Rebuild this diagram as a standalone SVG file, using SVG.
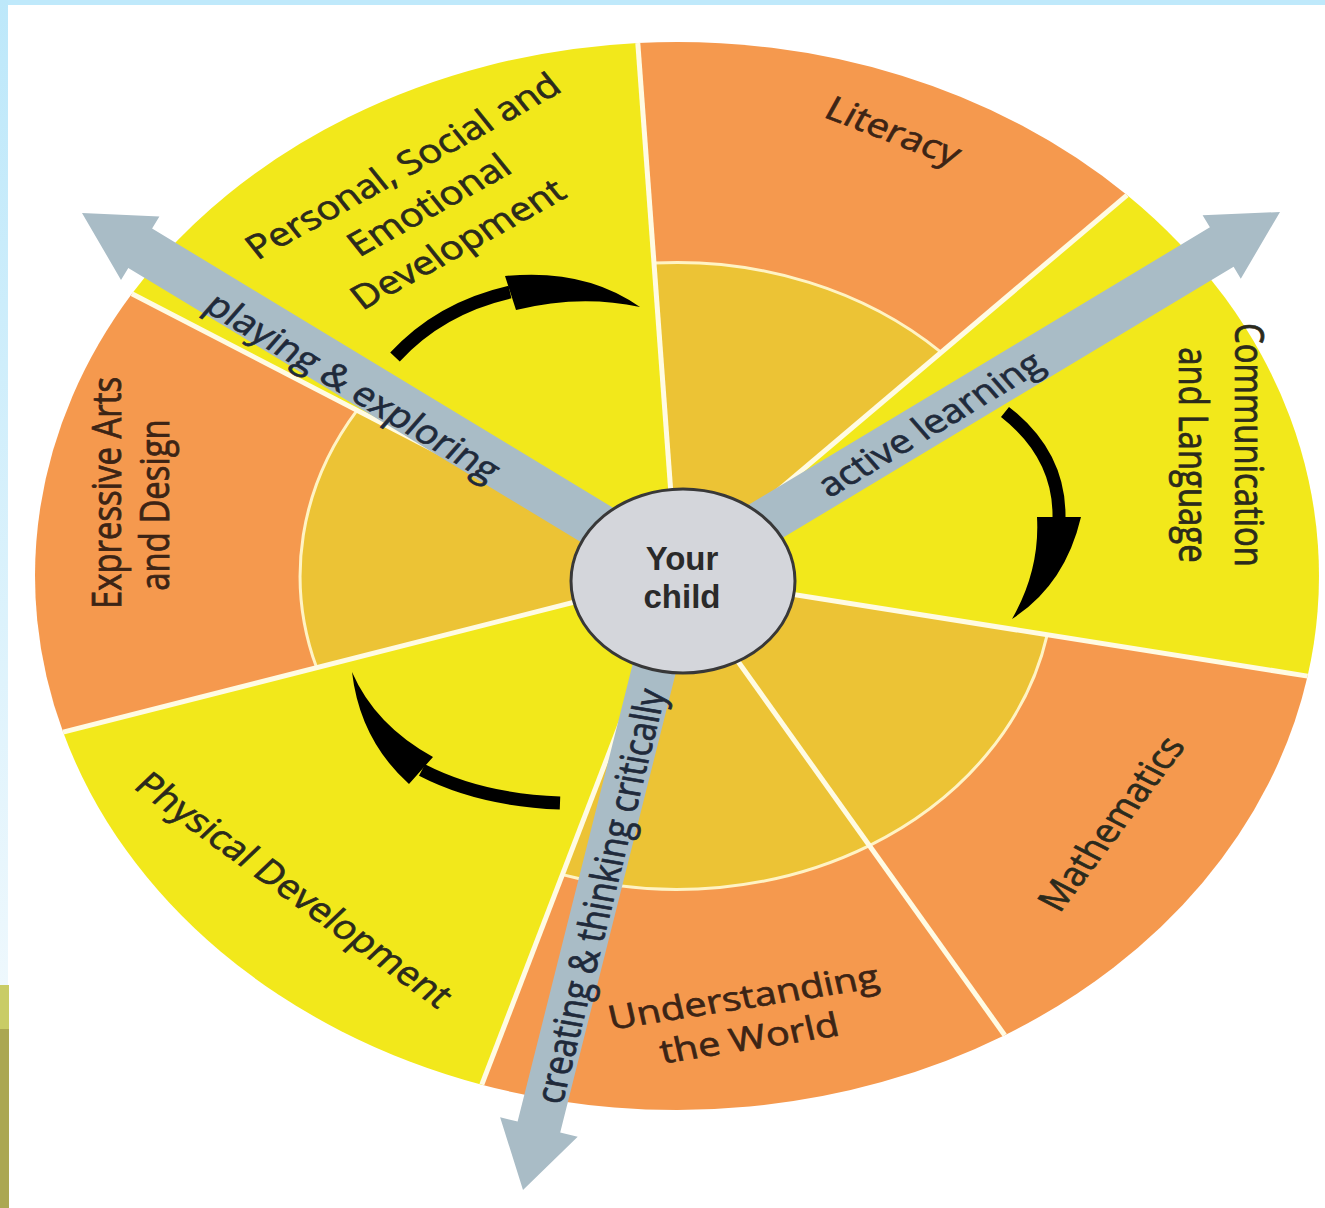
<svg xmlns="http://www.w3.org/2000/svg" width="1325" height="1208" viewBox="0 0 1325 1208">
<defs>
<linearGradient id="leftBand" x1="0" y1="0" x2="0" y2="1">
<stop offset="0" stop-color="#bde8fa"/>
<stop offset="1" stop-color="#eef8fd"/>
</linearGradient>
</defs>
<style>
.yellow{fill:#f2e81b}
.orange{fill:#f5994e}
.gold{fill:#ecc335;stroke:#fff3c4;stroke-width:3}
.sep{stroke:#fffbe3;stroke-width:5;fill:none}
.lbl{font-family:"Open Sans","Liberation Sans",Arial,sans-serif;font-size:35px;text-anchor:middle;dominant-baseline:central;stroke-width:0.7px}
.dark{fill:#2b2a1c;stroke:#2b2a1c}
.brown{fill:#3c2415;stroke:#3c2415}
.garrow{fill:#a9bcc6}
.alabel{font-family:"Open Sans","Liberation Sans",Arial,sans-serif;font-size:35px;text-anchor:middle;dominant-baseline:central;fill:#1f2a3b;stroke:#1f2a3b;stroke-width:0.7px}
.blk{fill:#000}
.shaft{fill:none;stroke:#000;stroke-width:13;stroke-linecap:butt}
</style>
<rect x="0" y="0" width="1325" height="1208" fill="#ffffff"/>
<rect x="0" y="0" width="1325" height="5" fill="#bfe9fb"/>
<rect x="0" y="0" width="8" height="985" fill="url(#leftBand)"/>
<rect x="0" y="985" width="9" height="44" fill="#c9cc66"/>
<rect x="0" y="1029" width="9" height="179" fill="#aba752"/>

<g id="literacy">
<path class="orange" d="M677,576 L637.8,43 A642,534 0 0 1 1127,195.1 Z"/>
<path class="gold" d="M677,576 L654,263.1 A377,313.5 0 0 1 941.2,352.4 Z"/>
<text class="lbl brown" transform="translate(894,130) scale(1.13,0.94) rotate(24.8)">Literacy</text>
</g>
<g id="mathematics">
<path class="orange" d="M677,576 L1307.6,676.1 A642,534 0 0 1 1004.7,1035.2 Z"/>
<path class="gold" d="M677,576 L1047.2,634.8 A377,313.5 0 0 1 869.4,845.6 Z"/>
<text class="lbl dark" transform="translate(1110,823) scale(1.13,0.94) rotate(-57.9)">Mathematics</text>
</g>
<g id="understanding">
<path class="orange" d="M677,576 L1004.7,1035.2 A642,534 0 0 1 481.8,1084.7 Z"/>
<path class="gold" d="M677,576 L869.4,845.6 A377,313.5 0 0 1 562.4,874.6 Z"/>
<text class="lbl brown" transform="translate(743,996) scale(1.13,0.94) rotate(-10.8)">Understanding</text>
<text class="lbl brown" transform="translate(749,1037) scale(1.13,0.94) rotate(-10.8)">the World</text>
</g>
<g id="expressive">
<path class="orange" d="M677,576 L63.1,732.1 A642,534 0 0 1 131.9,293.8 Z"/>
<path class="gold" d="M677,576 L316.6,667.6 A377,313.5 0 0 1 357,410.3 Z"/>
<text class="lbl brown" transform="translate(106,493) scale(1.13,0.94) rotate(-90)">Expressive Arts</text>
<text class="lbl brown" transform="translate(154,505) scale(1.13,0.94) rotate(-90)">and Design</text>
</g>
<g id="personal">
<path class="yellow" d="M677,576 L131.9,293.8 A642,534 0 0 1 637.8,43 Z"/>
<text class="lbl dark" transform="translate(402,165) scale(1.13,0.94) rotate(-33.7)">Personal, Social and</text>
<text class="lbl dark" transform="translate(428,204) scale(1.13,0.94) rotate(-33.7)">Emotional</text>
<text class="lbl dark" transform="translate(457,243) scale(1.13,0.94) rotate(-33.7)">Development</text>
</g>
<g id="communication">
<path class="yellow" d="M677,576 L1127,195.1 A642,534 0 0 1 1307.6,676.1 Z"/>
<text class="lbl dark" transform="translate(1250,445) scale(1.13,0.94) rotate(90)">Communication</text>
<text class="lbl dark" transform="translate(1194,455) scale(1.13,0.94) rotate(90)">and Language</text>
</g>
<g id="physical">
<path class="yellow" d="M677,576 L481.8,1084.7 A642,534 0 0 1 63.1,732.1 Z"/>
<text class="lbl dark" transform="translate(295,889) scale(1.13,0.94) rotate(41.1)">Physical Development</text>
</g>

<g id="connectors">
<g id="separators">
<line class="sep" x1="677" y1="576" x2="637.8" y2="43"/>
<line class="sep" x1="677" y1="576" x2="1127" y2="195.1"/>
<line class="sep" x1="677" y1="576" x2="1307.6" y2="676.1"/>
<line class="sep" x1="677" y1="576" x2="1004.7" y2="1035.2"/>
<line class="sep" x1="677" y1="576" x2="481.8" y2="1084.7"/>
<line class="sep" x1="677" y1="576" x2="63.1" y2="732.1"/>
<line class="sep" x1="677" y1="576" x2="131.9" y2="293.8"/>
</g>
<g id="arrow-playing">
<polygon class="garrow" points="689.9,554.3 152.1,228.5 159.4,216.6 82,213 121,279.9 128.3,267.9 666.1,593.7"/>
<text class="alabel" transform="translate(354,386) scale(1.13,0.94) rotate(36.1)">playing &amp; exploring</text>
</g>
<g id="arrow-active">
<polygon class="garrow" points="689.9,593.7 1233.6,266.7 1240.8,278.7 1280,212 1202.6,215.3 1209.9,227.3 666.2,554.3"/>
<text class="alabel" transform="translate(929,423) scale(1.13,0.94) rotate(-35.8)">active learning</text>
</g>
<g id="arrow-creating">
<polygon class="garrow" points="656.7,568.6 517.6,1121.6 500.1,1117.2 523,1190 577.7,1136.8 560.2,1132.4 699.3,579.4"/>
<text class="alabel" transform="translate(599,896) scale(1.13,0.94) rotate(-78.2)" font-size="36.5">creating &amp; thinking critically</text>
</g>
<g id="cycle-arrows">
<path class="shaft" d="M395,357 Q440,308 510,292"/>
<path class="blk" d="M505,276 Q585,268 640,307 Q580,294 516,310 Z"/>
<path class="shaft" d="M1005,412 Q1060,455 1059,518"/>
<path class="blk" d="M1037,517 L1081,517 Q1065,585 1012,619 Q1040,570 1037,517 Z"/>
<path class="shaft" d="M560,803 Q480,800 422,770"/>
<path class="blk" d="M433,757 L409,784 Q360,740 352,672 Q375,725 433,757 Z"/>
</g>
</g>

<g id="your-child">
<ellipse cx="683" cy="581" rx="112" ry="92" fill="#d4d6db" stroke="#383838" stroke-width="3"/>
<text x="682" y="570" font-family="Liberation Sans, Arial, sans-serif" font-size="33" font-weight="bold" text-anchor="middle" fill="#2a2a2a">Your</text>
<text x="682" y="608" font-family="Liberation Sans, Arial, sans-serif" font-size="33" font-weight="bold" text-anchor="middle" fill="#2a2a2a">child</text>
</g>
</svg>
